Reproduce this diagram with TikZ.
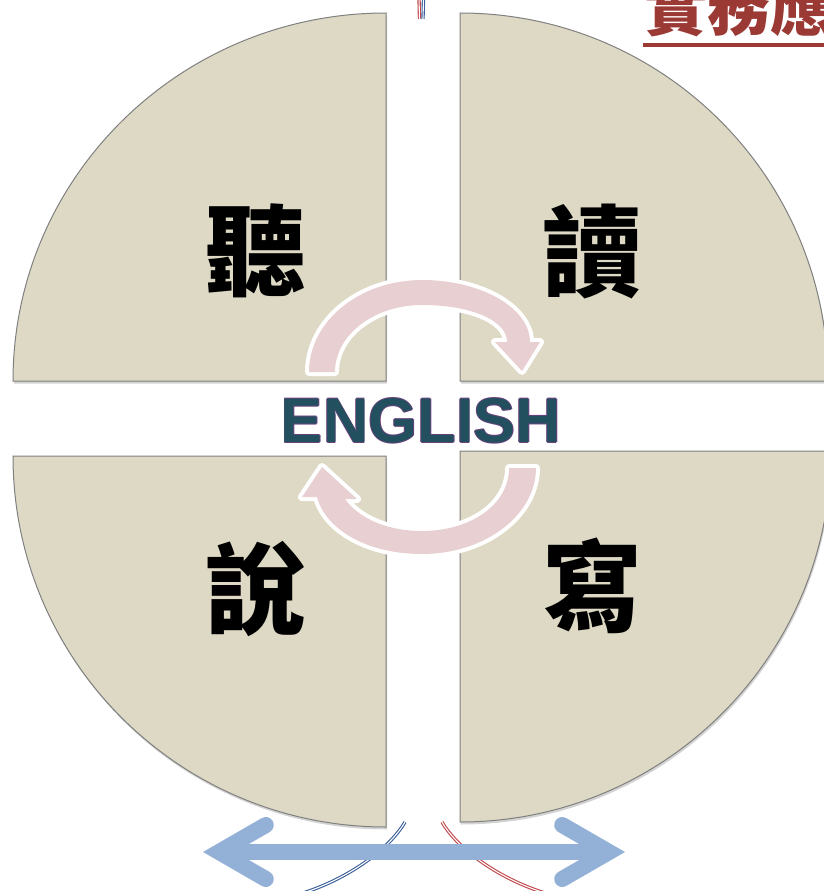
\documentclass[tikz,border=0pt]{standalone}
\usepackage{fontspec}
\newfontfamily\cjk{Noto Sans CJK TC}
\newfontfamily\engfont{Liberation Sans}
\usetikzlibrary{shadows}
\definecolor{piece}{RGB}{221,217,196}
\definecolor{cyclepink}{RGB}{232,208,210}
\definecolor{engteal}{RGB}{35,80,95}
\definecolor{engpurple}{RGB}{105,65,125}
\definecolor{barblue}{RGB}{147,177,214}
\definecolor{titlered}{RGB}{155,58,53}
\definecolor{lineblue}{RGB}{58,95,154}
\definecolor{linered}{RGB}{192,70,74}

\begin{document}
\begin{tikzpicture}[x=1pt, y=-1pt]

    \tikzstyle{quarter}=[fill=piece, draw=black!50, line width=1pt, drop shadow={shadow xshift=1pt, shadow yshift=-2.5pt, opacity=0.35}];
    \tikzstyle{cyclearrow}=[fill=cyclepink, preaction={draw=white, line width=8pt, line join=round}];
    \tikzstyle{skill}=[font=\cjk\bfseries\fontsize{100}{110}\selectfont, inner sep=0pt];
    \tikzstyle{english}=[font=\engfont\bfseries\fontsize{63}{70}\selectfont, inner sep=0pt];
    \tikzstyle{thinline}=[line width=1.1pt, double=white, double distance=1.1pt];
    \tikzstyle{bar}=[draw=barblue, line width=16pt];

    \useasboundingbox (0,0) rectangle (824,891);

    \draw [thinline, linered] (419,-2) -- (419.5,19);
    \draw [thinline, lineblue] (423.5,-2) -- (423,19);
    \draw [thinline, lineblue] (405,822) .. controls (390,848) and (350,878) .. (303,893);
    \draw [thinline, linered] (442,822) .. controls (457,848) and (497,878) .. (545,893);

    \path [quarter] (386,381) -- (13,381) arc [start angle=180, end angle=270, x radius=373, y radius=368] -- cycle;
    \path [quarter] (460,381) -- (460,13) arc [start angle=270, end angle=360, radius=368] -- cycle;
    \path [quarter] (386,456) -- (13,456) arc [start angle=180, end angle=90, x radius=373, y radius=371] -- cycle;
    \path [quarter] (460,451) -- (460,822) arc [start angle=90, end angle=0, radius=371] -- cycle;

    \path [cyclearrow] (309,372) .. controls (309,321) and (360,280) .. (422,280)
        .. controls (481,280) and (530,308) .. (530,342)
        -- (540,342) -- (522,371) -- (495,342) -- (507,342)
        .. controls (507,320) and (470,305) .. (422,305)
        .. controls (374,305) and (335,335) .. (335,372) -- cycle;
    \path [cyclearrow] (536,468) .. controls (536,515) and (485,554) .. (422,554)
        .. controls (365,554) and (325,528) .. (317,497)
        -- (302,497) -- (322,467) -- (357,499) -- (345,499)
        .. controls (360,520) and (390,531) .. (422,531)
        .. controls (470,531) and (509,505) .. (509,468) -- cycle;

    \foreach \dx/\dy [count=\i] in {-0.7/0, 0.7/0, 0/-0.7, 0/0.7}
        \node [english, text=engpurple](edge\i) at (421+\dx, 421+\dy){ENGLISH};
    \node [english, text=engteal](english) at (421, 421){ENGLISH};

    \node [skill](listen) at (255, 251){聽};
    \node [skill](read) at (592, 251){讀};
    \node [skill](speak) at (255, 589){說};
    \node [skill](write) at (592, 586){寫};

    \node [font=\cjk\bfseries\fontsize{63}{70}\selectfont, text=titlered, inner sep=0pt, anchor=base west](title) at (644, 31){實務應};
    \coordinate (ulstart) at (643, 45);
    \coordinate (ulend) at (830, 45);
    \draw [titlered, line width=4pt] (ulstart) -- (ulend);

    \coordinate (leftend) at (219, 852);
    \coordinate (rightend) at (609, 852);
    \draw [bar] (leftend) -- (rightend);
    \draw [bar, line cap=round, line join=miter] ([shift={(46.8,-27)}]leftend) -- (leftend) -- ([shift={(46.8,27)}]leftend);
    \draw [bar, line cap=round, line join=miter] ([shift={(-46.8,-27)}]rightend) -- (rightend) -- ([shift={(-46.8,27)}]rightend);

\end{tikzpicture}
\end{document}
